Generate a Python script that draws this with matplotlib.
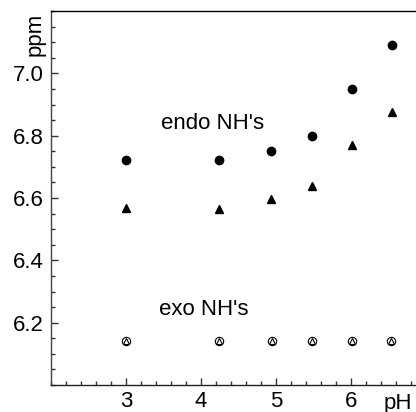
import matplotlib
matplotlib.use("Agg")
import matplotlib.pyplot as plt
from matplotlib.ticker import MultipleLocator, FixedLocator

plt.rcParams['font.family'] = ['Liberation Sans', 'DejaVu Sans']

# data
endo_circle_x = [3.0, 4.24, 4.93, 5.48, 6.02, 6.55]
endo_circle_y = [6.722, 6.722, 6.752, 6.80, 6.95, 7.09]
endo_tri_x = [3.0, 4.24, 4.93, 5.48, 6.02, 6.55]
endo_tri_y = [6.567, 6.565, 6.597, 6.637, 6.77, 6.875]
exo_x = [3.0, 4.24, 4.95, 5.48, 6.01, 6.53]
exo_y = [6.142, 6.142, 6.142, 6.142, 6.142, 6.142]
xticks = [3, 4, 5, 6]
yticks = [6.2, 6.4, 6.6, 6.8, 7.0]

fig = plt.figure(figsize=(4.16, 4.12), dpi=100)
ax = fig.add_axes([0.1226, 0.0655, 0.901, 0.9078])
ax.set_xlim(2.0, 7.0)
ax.set_ylim(6.0, 7.2)

ax.plot(endo_circle_x, endo_circle_y, 'o', color='black', markersize=6, linestyle='none')
ax.plot(endo_tri_x, endo_tri_y, '^', color='black', markersize=5.5, linestyle='none')
ax.plot(exo_x, exo_y, 'o', markerfacecolor='none', markeredgecolor='black',
        markersize=6, markeredgewidth=0.8, linestyle='none')
ax.plot(exo_x, exo_y, '^', markerfacecolor='none', markeredgecolor='black',
        markersize=5, markeredgewidth=0.8, linestyle='none')

ax.text(3.467, 6.823, "endo NH's", fontsize=16, ha='left', va='baseline')
ax.text(3.436, 6.226, "exo NH's", fontsize=16, ha='left', va='baseline')

ax.xaxis.set_major_locator(FixedLocator(xticks))
ax.xaxis.set_minor_locator(MultipleLocator(0.2))
ax.yaxis.set_major_locator(FixedLocator(yticks))
ax.yaxis.set_minor_locator(MultipleLocator(0.05))
ax.set_yticklabels([f"{v:.1f}" for v in yticks])
ax.set_xticklabels([str(v) for v in xticks])

ax.tick_params(which='both', direction='in', labelsize=16, width=1, color='#333333')
ax.tick_params(which='major', length=5)
ax.tick_params(which='minor', length=3)
ax.tick_params(axis='x', pad=4)
ax.tick_params(axis='y', pad=5)
ax.spines['right'].set_visible(False)
for s in ['left', 'bottom', 'top']:
    ax.spines[s].set_linewidth(1.0)
ax.spines['left'].set_color('#444444')
ax.spines['bottom'].set_color('#222222')

fig.text(35 / 416, 1 - 34 / 412, "ppm", rotation=90, fontsize=16, ha='center', va='center')
fig.text(398 / 416, 1 - 403 / 412, "pH", fontsize=16, ha='center', va='center')

fig.savefig("out.png", dpi=100)
